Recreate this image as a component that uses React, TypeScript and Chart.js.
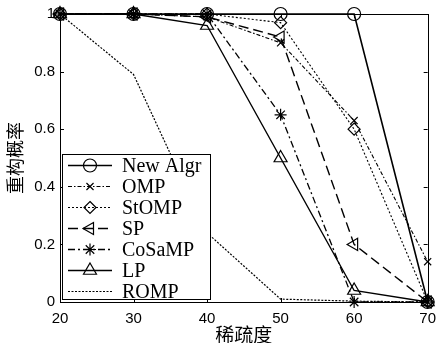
import React, { useEffect, useRef } from "react";
import { Chart, registerables } from "chart.js";

Chart.register(...registerables);

const sparsity = [20, 30, 40, 50, 60, 70];
const newAlgr = [1, 1, 1, 1, 1, 0];
const omp = [1, 1, 0.99, 0.9, 0.63, 0.14];
const stomp = [1, 1, 1, 0.97, 0.6, 0];
const sp = [1, 1, 0.99, 0.92, 0.2, 0];
const cosamp = [1, 1, 1, 0.65, 0, 0];
const lp = [1, 1, 0.96, 0.5, 0.04, 0];
const romp = [1, 0.79, 0.24, 0.01, 0.003, 0];

const xTicks = [20, 30, 40, 50, 60, 70];
const yTicks = [0, 0.2, 0.4, 0.6, 0.8, 1];
const xTitle = "稀疏度";
const yTitle = "重构概率";

type Series = {
  label: string;
  data: number[];
  dash: number[];
  width: number;
  pointStyle: any;
  radius: number;
  rotation: number;
};

const series: Series[] = [
  { label: "New Algr", data: newAlgr, dash: [], width: 1.6, pointStyle: "circle", radius: 6.5, rotation: 0 },
  { label: "OMP", data: omp, dash: [4, 2, 1.5, 2], width: 1.1, pointStyle: "crossRot", radius: 5, rotation: 0 },
  { label: "StOMP", data: stomp, dash: [2, 2], width: 1.1, pointStyle: "rectRot", radius: 6, rotation: 0 },
  { label: "SP", data: sp, dash: [10, 5], width: 1.4, pointStyle: "triangle", radius: 7, rotation: -90 },
  { label: "CoSaMP", data: cosamp, dash: [7, 3, 2, 3], width: 1.3, pointStyle: "star", radius: 6, rotation: 0 },
  { label: "LP", data: lp, dash: [], width: 1.4, pointStyle: "triangle", radius: 7.5, rotation: 0 },
  { label: "ROMP", data: romp, dash: [2, 1.5], width: 1.2, pointStyle: false, radius: 0, rotation: 0 },
];

const framePlugin = {
  id: "matlabFrame",
  afterDraw(chart: any) {
    const { ctx, chartArea, scales } = chart;
    const { left, right, top, bottom } = chartArea;
    ctx.save();
    ctx.strokeStyle = "#000";
    ctx.lineWidth = 1;
    ctx.setLineDash([]);
    ctx.strokeRect(Math.round(left) + 0.5, Math.round(top) + 0.5, Math.round(right - left), Math.round(bottom - top));
    // inward ticks
    const tl = 4;
    ctx.beginPath();
    xTicks.forEach((v) => {
      const x = Math.round(scales.x.getPixelForValue(v)) + 0.5;
      ctx.moveTo(x, bottom);
      ctx.lineTo(x, bottom - tl);
      ctx.moveTo(x, top);
      ctx.lineTo(x, top + tl);
    });
    yTicks.forEach((v) => {
      const y = Math.round(scales.y.getPixelForValue(v)) + 0.5;
      ctx.moveTo(left, y);
      ctx.lineTo(left + tl, y);
      ctx.moveTo(right, y);
      ctx.lineTo(right - tl, y);
    });
    ctx.stroke();

    // legend box
    const bx = 62, by = 154, bw = 148, bh = 145;
    ctx.fillStyle = "#fff";
    ctx.fillRect(bx, by, bw, bh);
    ctx.strokeRect(bx + 0.5, by + 0.5, bw, bh);
    const rowH = 21.1;
    const y0 = by + 10.5;
    ctx.font = "20px 'Liberation Serif', 'Times New Roman', serif";
    ctx.textBaseline = "middle";
    ctx.textAlign = "left";
    chart.data.datasets.forEach((ds: any, i: number) => {
      const y = Math.round(y0 + i * rowH) + 0.5;
      const s = series[i];
      ctx.save();
      ctx.strokeStyle = "#000";
      ctx.lineWidth = s.width;
      ctx.setLineDash(s.dash);
      ctx.beginPath();
      ctx.moveTo(68, y);
      ctx.lineTo(112, y);
      ctx.stroke();
      ctx.setLineDash([]);
      if (s.pointStyle) {
        ctx.lineWidth = 1.2;
        ctx.strokeStyle = "#000";
        ctx.fillStyle = "rgba(0,0,0,0)";
        (Chart as any).helpers
          ? null
          : null;
        drawPointLocal(ctx, s.pointStyle, s.radius, 90, y, s.rotation);
      }
      ctx.restore();
      ctx.fillStyle = "#000";
      ctx.fillText(ds.label, 122, y + 1);
    });
    ctx.restore();
  },
};

function drawPointLocal(ctx: CanvasRenderingContext2D, style: string, radius: number, x: number, y: number, rotationDeg: number) {
  const rad = (rotationDeg * Math.PI) / 180;
  ctx.beginPath();
  if (style === "circle") {
    ctx.arc(x, y, radius, 0, Math.PI * 2);
    ctx.closePath();
  } else if (style === "triangle") {
    let r = rad;
    ctx.moveTo(x + Math.sin(r) * radius, y - Math.cos(r) * radius);
    r += (2 * Math.PI) / 3;
    ctx.lineTo(x + Math.sin(r) * radius, y - Math.cos(r) * radius);
    r += (2 * Math.PI) / 3;
    ctx.lineTo(x + Math.sin(r) * radius, y - Math.cos(r) * radius);
    ctx.closePath();
  } else if (style === "rectRot") {
    ctx.moveTo(x, y - radius);
    ctx.lineTo(x + radius, y);
    ctx.lineTo(x, y + radius);
    ctx.lineTo(x - radius, y);
    ctx.closePath();
  } else if (style === "crossRot") {
    const d = radius * Math.SQRT1_2;
    ctx.moveTo(x - d, y - d);
    ctx.lineTo(x + d, y + d);
    ctx.moveTo(x - d, y + d);
    ctx.lineTo(x + d, y - d);
  } else if (style === "star") {
    for (let k = 0; k < 4; k++) {
      const a = (k * Math.PI) / 4;
      ctx.moveTo(x - Math.cos(a) * radius, y - Math.sin(a) * radius);
      ctx.lineTo(x + Math.cos(a) * radius, y + Math.sin(a) * radius);
    }
  }
  ctx.stroke();
}

export default function App() {
  const ref = useRef<HTMLCanvasElement | null>(null);

  useEffect(() => {
    document.body.style.margin = "0";
    if (!ref.current) return;
    const chart = new Chart(ref.current, {
      type: "line",
      data: {
        labels: sparsity,
        datasets: series.map((s) => ({
          label: s.label,
          data: s.data.map((v, i) => ({ x: sparsity[i], y: v })),
          borderColor: "#000",
          borderWidth: s.width,
          borderDash: s.dash,
          backgroundColor: "rgba(0,0,0,0)",
          fill: false,
          tension: 0,
          pointStyle: s.pointStyle,
          pointRadius: s.radius,
          pointRotation: s.rotation,
          pointBorderColor: "#000",
          pointBorderWidth: 1.2,
          pointBackgroundColor: "rgba(0,0,0,0)",
          clip: false,
        })),
      },
      options: {
        animation: false,
        responsive: false,
        devicePixelRatio: 1,
        layout: { padding: { top: 14, right: 7, left: 0, bottom: 0 } },
        plugins: {
          legend: { display: false },
          tooltip: { enabled: false },
        },
        scales: {
          x: {
            type: "linear",
            min: 20,
            max: 70,
            afterBuildTicks: (scale: any) => {
              scale.ticks = xTicks.map((v) => ({ value: v }));
            },
            afterFit: (scale: any) => {
              scale.height = 41;
            },
            grid: { display: false, drawTicks: false },
            border: { display: false },
            ticks: {
              color: "#000",
              padding: 8,
              maxRotation: 0,
              autoSkip: false,
              font: { family: "'Liberation Sans', Arial, sans-serif", size: 15 },
            },
            title: {
              display: true,
              text: xTitle,
              color: "#000",
              font: { family: "'Noto Sans CJK SC', serif", size: 19, lineHeight: 0.84 },
              padding: { top: 0, bottom: 0 },
            },
          },
          y: {
            type: "linear",
            min: 0,
            max: 1,
            afterBuildTicks: (scale: any) => {
              scale.ticks = yTicks.map((v) => ({ value: v }));
            },
            afterFit: (scale: any) => {
              scale.width = 60;
            },
            grid: { display: false, drawTicks: false },
            border: { display: false },
            ticks: {
              color: "#000",
              padding: 5,
              autoSkip: false,
              callback: (v: any) => String(Math.round(Number(v) * 10) / 10),
              font: { family: "'Liberation Sans', Arial, sans-serif", size: 15 },
            },
            title: {
              display: true,
              text: yTitle,
              color: "#000",
              font: { family: "'Noto Sans CJK SC', serif", size: 18, lineHeight: 1.2 },
              padding: { top: 4, bottom: 0 },
            },
          },
        },
      },
      plugins: [framePlugin],
    });
    return () => chart.destroy();
  }, []);

  return (
    <div style={{ position: "fixed", left: 0, top: 0, width: 444, height: 343, background: "#fff" }}>
      <canvas ref={ref} width={444} height={343} style={{ width: 444, height: 343, display: "block" }} />
    </div>
  );
}
